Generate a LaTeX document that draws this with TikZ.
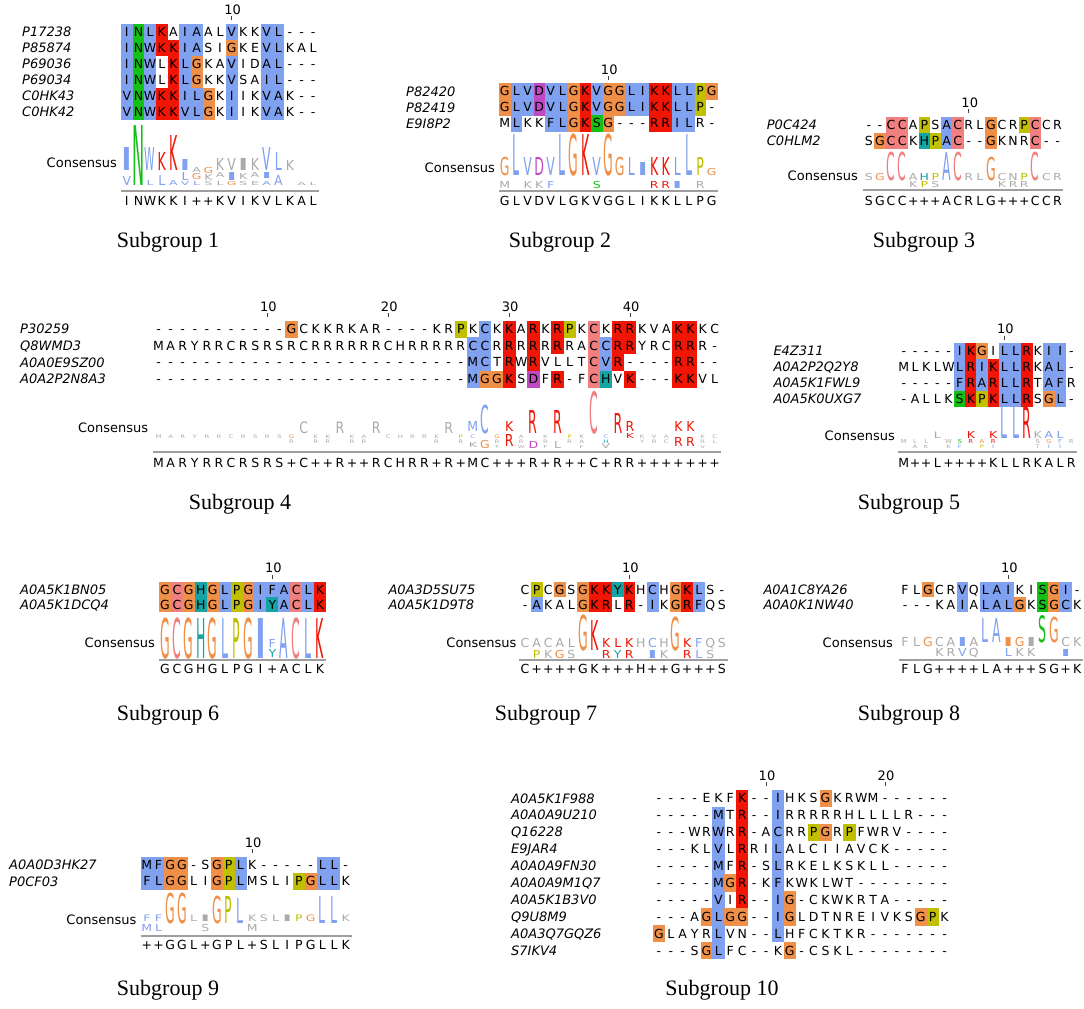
\documentclass[tikz,border=0pt]{standalone}
\usepackage{fontspec}
\newfontfamily\seqf{DejaVu Sans}
\newfontfamily\titf{Liberation Serif}
\definecolor{clb}{HTML}{80A0F0}
\definecolor{clr}{HTML}{F01505}
\definecolor{clg}{HTML}{15C015}
\definecolor{clm}{HTML}{C048C0}
\definecolor{clp}{HTML}{F08080}
\definecolor{clo}{HTML}{F09048}
\definecolor{clc}{HTML}{15A4A4}
\definecolor{cly}{HTML}{C0C000}
\definecolor{cla}{HTML}{AAAAAA}
\newcount\sqcnt
\newcount\lgcnt
\let\sqend\relax
\tikzset{
 seq/.style={inner sep=0pt, font=\seqf\fontsize{12.5}{12.5}\selectfont, text height=9.1pt, text depth=0pt, anchor=center},
 lab/.style={inner sep=0pt, anchor=west, font=\seqf\itshape\fontsize{13}{13}\selectfont, text height=9.5pt, text depth=0pt},
 num/.style={inner sep=0pt, font=\seqf\fontsize{13}{13}\selectfont},
 tick/.style={line width=0.8pt, draw=black!75},
 conslab/.style={inner sep=0pt, anchor=east, font=\seqf\fontsize{13}{13}\selectfont},
 lgf/.style={inner sep=0pt, anchor=base, font=\seqf\fontsize{12.5}{12.5}\selectfont},
 rulel/.style={draw=black!38, line width=1.6pt},
 title/.style={inner sep=0pt, font=\titf\fontsize{22}{22}\selectfont},
}
\newcommand\setgrp[5]{\def\gx{#1}\def\gy{#2}\def\gw{#3}\def\gh{#4}\def\glx{#5}}
\def\sqloop#1#2\sqend#3#4\sqend{%
  \advance\sqcnt by 1\relax
  \if n#3\else
    \fill[cl#3] ({\gx+(\the\sqcnt-1)*\gw},\sqy) rectangle ++({\gw+0.3},{\gh+0.3});%
  \fi
  \node[seq] (\sqn c\the\sqcnt) at ({\gx+(\the\sqcnt-0.5)*\gw},{\sqy+0.5*\gh}) {#1};%
  \ifx\relax#2\relax\else\sqloop#2\sqend#4\sqend\fi}
\newcommand\sqrow[5]{%
  \pgfmathsetmacro\sqy{\gy+(#2-1)*\gh}%
  \node[lab] (#1) at (\glx,{\sqy+0.5*\gh}) {#3};%
  \def\sqn{#1}\sqcnt=0
  \sqloop#4\sqend#5\sqend}
\def\csloop#1#2\sqend{\advance\sqcnt by 1\relax
  \node[seq] (\sqn c\the\sqcnt) at ({\gx+(\the\sqcnt-0.5)*\gw},\csy) {#1};%
  \ifx\relax#2\relax\else\csloop#2\sqend\fi}
\newcommand\consline[3]{\def\sqn{#1}\def\csy{#2}\sqcnt=0 \csloop#3\sqend}
\newcommand\ticknum[3]{%
  \pgfmathsetmacro\tkx{\gx+(#2-0.5)*\gw}%
  \draw[tick] (\tkx,{\gy-7.5}) -- (\tkx,{\gy-3.5});%
  \node[num] (#1) at ({\tkx+1},{\gy-14}) {#3};}
\newcommand\consrule[3]{%
  \coordinate (#3a) at (\gx,#2);
  \coordinate (#3b) at ({\gx+#1*\gw},#2);
  \draw[rulel] (#3a) -- (#3b);}
\newcommand\logoch[6][1]{%
  \global\advance\lgcnt by 1\relax
  \pgfmathsetmacro\lgs{#4/9.11}%
  \node[lgf, text=cl#5] (lg\the\lgcnt) at ({\gx+(#2-0.5)*\gw},#3) {\scalebox{#1}[\lgs]{#6}};}
\newcommand\tinyrow[3]{\foreach \tkc/\tkl/\tkk in {#3}{%
  \edef\tkcmd{\noexpand\logoch[0.55]{\tkc}{#1}{#2}{\tkk}{\tkl}}\tkcmd}}
\begin{document}
\begin{tikzpicture}[x=1pt,y=-1pt]
\useasboundingbox (0,0) rectangle (1084,1009);
\fill[white] (0,0) rectangle (1084,1009);

% ---------------- Subgroup 1
\setgrp{121}{23.5}{11.65}{16}{22}
\ticknum{s1n10}{10}{10}
\sqrow{s1a}{1}{P17238}{INLKAIAALVKKVL---}{bgbrnbbnnbnnbbnnn}
\sqrow{s1b}{2}{P85874}{INWKKIASIGKEVLKAL}{bgbrrbbnnonnbbnnn}
\sqrow{s1c}{3}{P69036}{INWLKLGKAVIDAL---}{bgbnrbonnbnnbbnnn}
\sqrow{s1d}{4}{P69034}{INWLKLGKKVSAIL---}{bgbnrbonnbnnbbnnn}
\sqrow{s1e}{5}{C0HK43}{VNWKKILGKIIKVAK--}{bgbrrbbonbnnbbnnn}
\sqrow{s1f}{6}{C0HK42}{VNWKKVLGKIIKVAK--}{bgbrrbbonbnnbbnnn}
\node[conslab] (s1cl) at (117,162.7) {Consensus};
\logoch[4]{1}{170}{23}{b}{I} \logoch{1}{185}{9}{b}{V}
\logoch[1.3]{2}{185}{60}{g}{N}
\logoch[0.85]{3}{170}{23}{b}{W} \logoch{3}{185}{5}{b}{L}
\logoch{4}{170}{18}{r}{K} \logoch{4}{185}{10}{b}{L}
\logoch{5}{170}{35}{r}{K} \logoch{5}{185}{5}{b}{A}
\logoch[4]{6}{170}{11}{b}{I} \logoch{6}{180}{8}{b}{L} \logoch{6}{185}{4}{b}{V}
\logoch{7}{172}{5}{a}{A} \logoch{7}{179}{6}{o}{G} \logoch{7}{185}{4}{b}{L}
\logoch{8}{173}{6}{o}{G} \logoch{8}{180}{6}{a}{K} \logoch{8}{185}{4}{a}{S}
\logoch{9}{170}{12}{a}{K} \logoch{9}{177}{5}{a}{A} \logoch{9}{185}{4}{a}{L}
\logoch{10}{170}{12}{a}{V} \logoch[4]{10}{180}{8}{b}{I} \logoch{10}{185}{4}{o}{G}
\logoch[4]{11}{170}{12}{a}{I} \logoch{11}{179}{6}{a}{K} \logoch{11}{185}{4}{a}{S}
\logoch{12}{170}{12}{a}{K} \logoch{12}{177}{5}{a}{A} \logoch{12}{185}{4}{a}{E}
\logoch{13}{170}{23}{b}{V} \logoch[4]{13}{178}{6}{b}{I} \logoch{13}{185}{4}{b}{A}
\logoch{14}{170}{18}{b}{L} \logoch{14}{185}{10}{b}{A}
\logoch{15}{170}{10}{a}{K}
\logoch{16}{185}{3}{a}{A} \logoch{17}{185}{3}{a}{L}
\consrule{17}{190.7}{s1r}
\consline{s1k}{200.5}{INWKKI++KVIKVLKAL}
\node[title] (t1) at (168,242) {Subgroup 1};

% ---------------- Subgroup 2
\setgrp{499}{83.3}{11.5}{16}{406}
\ticknum{s2n10}{10}{10}
\sqrow{s2a}{1}{P82420}{GLVDVLGKVGGLIKKLLPG}{obbmbborboobbrrbbyo}
\sqrow{s2b}{2}{P82419}{GLVDVLGKVGGLIKKLLP-}{obbmbborboobbrrbbyn}
\sqrow{s2c}{3}{E9I8P2}{MLKKFLGKSG---RRILR-}{nbnnbborgonnnrrbbnn}
\node[conslab] (s2cl) at (495,167.3) {Consensus};
\logoch{1}{175}{18}{o}{G} \logoch{2}{175}{41}{b}{L} \logoch{3}{175}{18}{b}{V}
\logoch{4}{175}{18}{m}{D} \logoch{5}{175}{18}{b}{V} \logoch{6}{175}{41}{b}{L}
\logoch{7}{175}{41}{o}{G} \logoch{8}{175}{41}{r}{K} \logoch{9}{175}{18}{b}{V}
\logoch{10}{175}{41}{o}{G} \logoch{11}{175}{18}{o}{G} \logoch{12}{175}{18}{b}{L}
\logoch[4]{13}{175}{13}{b}{I} \logoch{14}{175}{18}{r}{K} \logoch{15}{175}{18}{r}{K}
\logoch{16}{175}{18}{b}{L} \logoch{17}{175}{41}{b}{L} \logoch{18}{175}{18}{y}{P}
\logoch{19}{175}{7}{o}{G}
\logoch{1}{188}{7}{a}{M} \logoch{3}{188}{7}{a}{K} \logoch{4}{188}{7}{a}{K}
\logoch{5}{188}{7}{b}{F} \logoch{9}{188}{7}{g}{S} \logoch{14}{188}{7}{r}{R}
\logoch{15}{188}{7}{r}{R} \logoch[4]{16}{188}{7}{b}{I} \logoch{18}{188}{7}{a}{R}
\consrule{19}{191}{s2r}
\consline{s2k}{201}{GLVDVLGKVGGLIKKLLPG}
\node[title] (t2) at (560,242) {Subgroup 2};

% ---------------- Subgroup 3
\setgrp{863.3}{116.5}{11.1}{16}{766.7}
\ticknum{s3n10}{10}{10}
\sqrow{s3a}{1}{P0C424}{--CCAPSACRLGCRPCCR}{nnppnynbpnnonnypnn}
\sqrow{s3b}{2}{C0HLM2}{SGCCKHPAC--GKNRC--}{noppncybpnnonnnpnn}
\node[conslab] (s3cl) at (858,176) {Consensus};
\logoch{1}{180}{7}{a}{S} \logoch{2}{180}{7}{o}{G} \logoch{3}{180}{28}{p}{C}
\logoch{4}{180}{28}{p}{C} \logoch{5}{180}{7}{a}{A} \logoch{6}{180}{7}{c}{H}
\logoch{7}{180}{7}{y}{P} \logoch{8}{180}{28}{b}{A} \logoch{9}{180}{28}{p}{C}
\logoch{10}{180}{7}{a}{R} \logoch{11}{180}{7}{a}{L} \logoch{12}{180}{23}{o}{G}
\logoch{13}{180}{7}{a}{C} \logoch{14}{180}{7}{a}{N} \logoch{15}{180}{7}{y}{P}
\logoch{16}{180}{28}{p}{C} \logoch{17}{180}{7}{a}{C} \logoch{18}{180}{7}{a}{R}
\logoch{5}{187}{6}{a}{K} \logoch{6}{187}{6}{y}{P} \logoch{7}{187}{6}{a}{S}
\logoch{13}{187}{6}{a}{K} \logoch{14}{187}{6}{a}{R} \logoch{15}{187}{6}{a}{R}
\consrule{18}{190}{s3r}
\consline{s3k}{200.5}{SGCC+++ACRLG+++CCR}
\node[title] (t3) at (924,242) {Subgroup 3};

% ---------------- Subgroup 4
\setgrp{152.5}{320.7}{12.09}{16.65}{20}
\ticknum{s4n10}{10}{10}
\ticknum{s4n20}{20}{20}
\ticknum{s4n30}{30}{30}
\ticknum{s4n40}{40}{40}
\sqrow{s4a}{1}{P30259}{-----------GCKKRKAR----KRPKCKKARKRPKCKRRKVAKKKC}{nnnnnnnnnnnonnnnnnnnnnnnnynbnrnrnrynpnrrnnnrrnn}
\sqrow{s4b}{2}{Q8WMD3}{MARYRRCRSRSRCRRRRRRCHRRRRRCCRRRRRRRACCRRYRCRRR-}{nnnnnnnnnnnnnnnnnnnnnnnnnnbbnrnrnrnnpbrrnnnrrnn}
\sqrow{s4c}{3}{A0A0E9SZ00}{--------------------------MCTRWRVLLTCVR----RR--}{nnnnnnnnnnnnnnnnnnnnnnnnnnbbnrnrnnnnpbrnnnnrrnn}
\sqrow{s4d}{4}{A0A2P2N8A3}{--------------------------MGGKSDFR-FCHVK---KKVL}{nnnnnnnnnnnnnnnnnnnnnnnnnnboornmnrnnpcnrnnnrrnn}
\node[conslab] (s4cl) at (148.3,427.7) {Consensus};
\logoch{13}{433}{11.5}{a}{C} \logoch{16}{433}{11.5}{a}{R} \logoch{19}{433}{11.5}{a}{R}
\logoch{25}{433}{11}{a}{R} \logoch{27}{431.5}{10}{b}{M} \logoch{28}{433}{28}{b}{C}
\logoch{30}{431.5}{10}{r}{K} \logoch{32}{433}{23}{r}{R} \logoch{34}{433}{23}{r}{R}
\logoch{37}{433}{41.5}{p}{C} \logoch{39}{433}{20}{r}{R} \logoch{40}{431.5}{10}{r}{R}
\logoch{44}{431.5}{10}{r}{K} \logoch{45}{431.5}{10}{r}{K}
\tinyrow{438.5}{3.5}{1/M/a,2/A/a,3/R/a,4/Y/a,5/R/a,6/R/a,7/C/a,8/R/a,9/S/a,10/R/a,11/S/a,12/G/o,14/K/a,15/K/a,17/K/a,18/A/a,20/C/a,21/H/a,22/R/a,23/R/a,24/K/a,26/P/y,27/C/b,29/G/o,31/A/a,33/K/a,35/P/y,36/K/a,38/C/b,41/K/a,42/V/a,43/A/a,46/K/a,47/C/a}
\tinyrow{443.5}{3.5}{12/R/a,14/R/a,15/R/a,17/R/a,18/R/a,24/R/a,26/R/a,29/R/a,31/R/a,33/R/a,35/R/a,36/A/a,38/H/c,41/Y/a,42/R/a,43/C/a,46/R/a,47/L/a}
\logoch{40}{438.5}{5}{r}{K}
\logoch{27}{447}{5}{a}{K} \logoch{28}{448}{8}{o}{G} \logoch{30}{446.5}{12}{r}{R}
\logoch{32}{448}{7}{m}{D} \logoch{34}{448}{7}{a}{L} \logoch{38}{448}{5}{a}{V}
\logoch{44}{446.5}{9}{r}{R} \logoch{45}{446.5}{9}{r}{R}
\tinyrow{448}{3}{29/T/a,31/W/a,33/F/a,36/F/a,46/V/a}
\consrule{47}{451.7}{s4r}
\consline{s4k}{462.5}{MARYRRCRSRS+C++R++RCHRR+R+MC+++R+R++C+RR+++++++}
\node[title] (t4) at (240,504) {Subgroup 4};

% ---------------- Subgroup 5
\setgrp{898.3}{343}{11.16}{16}{773.3}
\ticknum{s5n10}{10}{10}
\sqrow{s5a}{1}{E4Z311}{-----IKGILLRKII-}{nnnnnbronbbrnbbn}
\sqrow{s5b}{2}{A0A2P2Q2Y8}{MLKLWLRIKLLRKAL-}{nnnnnbrbrbbrnbbn}
\sqrow{s5c}{3}{A0A5K1FWL9}{-----FRARLLRTAFR}{nnnnnbrbrbbrnbbn}
\sqrow{s5d}{4}{A0A5K0UXG7}{-ALLKSKPKLLRSGL-}{nnnnngryrbbrnobn}
\node[conslab] (s5cl) at (895,436) {Consensus};
\logoch{10}{438}{31.5}{b}{L} \logoch{11}{438}{31.5}{b}{L} \logoch{12}{438}{31.5}{r}{R}
\logoch{4}{438}{6.5}{a}{L} \logoch{7}{438}{7}{r}{K} \logoch{9}{438}{7}{r}{K}
\logoch{13}{438}{7}{a}{K} \logoch{14}{438}{7}{b}{A} \logoch{15}{438}{7}{b}{L}
\tinyrow{443.5}{4}{1/M/a,2/L/a,3/L/a,5/W/a,6/S/g,7/R/r,8/A/o,9/R/r,13/S/a,14/G/o,15/F/b,16/R/a}
\tinyrow{448}{3.5}{2/A/a,3/K/a,5/K/a,6/F/b,8/P/y,9/I/b,13/T/a,14/I/b,15/I/b}
\consrule{16}{452}{s5r}
\consline{s5k}{462.5}{M++L++++KLLRKALR}
\node[title] (t5) at (909,504) {Subgroup 5};

% ---------------- Subgroup 6
\setgrp{159}{582}{11.93}{15}{20}
\ticknum{s6n10}{10}{10}
\sqrow{s6a}{1}{A0A5K1BN05}{GCGHGLPGIFACLK}{opocobyobbbpbr}
\sqrow{s6b}{2}{A0A5K1DCQ4}{GCGHGLPGIYACLK}{opocobyobcbpbr}
\node[conslab] (s6cl) at (155,642.7) {Consensus};
\logoch{1}{658}{40}{o}{G} \logoch{2}{658}{40}{p}{C} \logoch{3}{658}{40}{o}{G}
\logoch{4}{658}{40}{c}{H} \logoch{5}{658}{40}{o}{G} \logoch{6}{658}{40}{b}{L}
\logoch{7}{658}{40}{y}{P} \logoch{8}{658}{40}{o}{G} \logoch[4]{9}{658}{40}{b}{I}
\logoch{10}{647}{8}{b}{F} \logoch{10}{657}{8}{c}{Y}
\logoch{11}{658}{40}{b}{A} \logoch{12}{658}{40}{p}{C} \logoch{13}{658}{40}{b}{L}
\logoch{14}{658}{40}{r}{K}
\consrule{14}{660}{s6r}
\consline{s6k}{668.5}{GCGHGLPGI+ACLK}
\node[title] (t6) at (168,715) {Subgroup 6};

% ---------------- Subgroup 7
\setgrp{519.3}{582}{11.58}{15}{388.3}
\ticknum{s7n10}{10}{10}
\sqrow{s7a}{1}{A0A3D5SU75}{CPCGSGKKYKHCHGKLS-}{nynonorrcrnbnorbnn}
\sqrow{s7b}{2}{A0A5K1D9T8}{-AKALGKRLR-IKGRFQS}{nbnnnorrnrnbnorbnn}
\node[conslab] (s7cl) at (516.7,642.7) {Consensus};
\logoch{6}{650}{35}{o}{G} \logoch{7}{650}{30}{r}{K} \logoch{14}{650}{33}{o}{G}
\logoch{1}{647}{9}{a}{C} \logoch{2}{647}{9}{a}{A} \logoch{3}{647}{9}{a}{C}
\logoch{4}{647}{9}{a}{A} \logoch{5}{647}{9}{a}{L} \logoch{8}{647}{9}{r}{K}
\logoch{9}{647}{9}{r}{L} \logoch{10}{647}{9}{r}{K} \logoch{11}{647}{9}{a}{H}
\logoch{12}{647}{9}{b}{C} \logoch{13}{647}{9}{a}{H} \logoch{15}{647}{9}{r}{K}
\logoch{16}{647}{9}{b}{F} \logoch{17}{647}{9}{a}{Q} \logoch{18}{647}{9}{a}{S}
\logoch{2}{658}{8}{y}{P} \logoch{3}{658}{8}{a}{K} \logoch{4}{658}{8}{o}{G}
\logoch{5}{658}{8}{a}{S} \logoch{8}{658}{8}{r}{R} \logoch{9}{658}{8}{c}{Y}
\logoch{10}{658}{8}{r}{R} \logoch[4]{12}{658}{8}{b}{I} \logoch{13}{658}{8}{a}{K}
\logoch{15}{658}{8}{r}{R} \logoch{16}{658}{8}{b}{L} \logoch{17}{658}{8}{a}{S}
\consrule{18}{660}{s7r}
\consline{s7k}{668.5}{C++++GK+++H++G+++S}
\node[title] (t7) at (546,715) {Subgroup 7};

% ---------------- Subgroup 8
\setgrp{899.3}{582}{11.47}{15}{763.3}
\ticknum{s8n10}{10}{10}
\sqrow{s8a}{1}{A0A1C8YA26}{FLGCRVQLAIKISGI-}{nnonnbnbbbnngobn}
\sqrow{s8b}{2}{A0A0K1NW40}{---KAIALALGKSGCK}{nnnnnbnbbbongobn}
\node[conslab] (s8cl) at (893,642.7) {Consensus};
\logoch{8}{642}{24}{b}{L} \logoch{9}{642}{24}{b}{A} \logoch{13}{642}{26.5}{g}{S}
\logoch{14}{642}{25}{o}{G}
\logoch{1}{646}{9}{a}{F} \logoch{2}{646}{9}{a}{L} \logoch{3}{646}{9}{o}{G}
\logoch{4}{646}{9}{a}{C} \logoch{5}{646}{9}{a}{A} \logoch[4]{6}{646}{9}{b}{I}
\logoch{7}{646}{9}{a}{A} \logoch[4]{10}{646}{9}{o}{I} \logoch{11}{646}{9}{o}{G}
\logoch[4]{12}{646}{9}{a}{I} \logoch{15}{646}{9}{a}{C} \logoch{16}{646}{9}{a}{K}
\logoch{4}{656.5}{8}{a}{K} \logoch{5}{656.5}{8}{a}{R} \logoch{6}{656.5}{8}{b}{V}
\logoch{7}{656.5}{8}{a}{Q} \logoch{10}{656.5}{8}{b}{L} \logoch{11}{656.5}{8}{a}{K}
\logoch{12}{656.5}{8}{a}{K} \logoch[4]{15}{656.5}{7}{b}{I}
\consrule{16}{660}{s8r}
\consline{s8k}{668.5}{FLG++++LA+++SG+K}
\node[title] (t8) at (909,715) {Subgroup 8};

% ---------------- Subgroup 9
\setgrp{141}{856.5}{11.7}{16.5}{9}
\ticknum{s9n10}{10}{10}
\sqrow{s9a}{1}{A0A0D3HK27}{MFGG-SGPLK-----LL-}{bboonnoybnnnnnnbbn}
\sqrow{s9b}{2}{P0CF03}{FLGGLIGPLMSLIPGLLK}{bboonnoybnnnnyobbn}
\node[conslab] (s9cl) at (136.7,919.3) {Consensus};
\logoch{3}{923}{30}{o}{G} \logoch{4}{923}{30}{o}{G} \logoch{7}{923}{27}{o}{G}
\logoch{8}{923}{27}{y}{P} \logoch{9}{923}{25}{b}{L} \logoch{16}{923}{27}{b}{L}
\logoch{17}{923}{27}{b}{L}
\logoch{1}{921.5}{6.5}{b}{F} \logoch{2}{921.5}{6.5}{b}{F} \logoch{5}{921.5}{6.5}{a}{L}
\logoch[4]{6}{921.5}{6.5}{a}{I} \logoch{10}{921.5}{6.5}{a}{K} \logoch{11}{921.5}{6.5}{a}{S}
\logoch{12}{921.5}{6.5}{a}{L} \logoch[4]{13}{921.5}{6.5}{a}{I} \logoch{14}{921.5}{6.5}{y}{P}
\logoch{15}{921.5}{6.5}{o}{G} \logoch{18}{921.5}{6.5}{a}{K}
\logoch{1}{931.5}{7}{b}{M} \logoch{2}{931.5}{7}{b}{L} \logoch{6}{931.5}{7}{a}{S}
\logoch{10}{931.5}{7}{a}{M}
\consrule{18}{936}{s9r}
\consline{s9k}{945}{++GGL+GPL+SLIPGLLK}
\node[title] (t9) at (168,990) {Subgroup 9};

% ---------------- Subgroup 10
\setgrp{652.95}{789.8}{11.9}{16.93}{511}
\ticknum{s10n10}{10}{10}
\ticknum{s10n20}{20}{20}
\sqrow{s10a}{1}{A0A5K1F988}{----EKFK--IHKSGKRWM------}{nnnnnnnrnnbnnnonnnnnnnnnn}
\sqrow{s10b}{2}{A0A0A9U210}{-----MTR--IRRRRRHLLLLR---}{nnnnnbnrnnbnnnnnnnnnnnnnn}
\sqrow{s10c}{3}{Q16228}{---WRWRR-ACRRPGRPFWRV----}{nnnnnbnrnnbnnyonynnnnnnnn}
\sqrow{s10d}{4}{E9JAR4}{---KLVLRRILALCIIAVCK-----}{nnnnnbnrnnbnnnnnnnnnnnnnn}
\sqrow{s10e}{5}{A0A0A9FN30}{-----MFR-SLRKELKSKLL-----}{nnnnnbnrnnbnnnnnnnnnnnnnn}
\sqrow{s10f}{6}{A0A0A9M1Q7}{-----MGR-KFKWKLWT--------}{nnnnnbornnbnnnnnnnnnnnnnn}
\sqrow{s10g}{7}{A0A5K1B3V0}{-----VIR--IG-CKWKRTA-----}{nnnnnbnrnnbonnnnnnnnnnnnn}
\sqrow{s10h}{8}{Q9U8M9}{---AGLGG--IGLDTNREIVKSGPK}{nnnnoboonnbonnnnnnnnnnoyn}
\sqrow{s10i}{9}{A0A3Q7GQZ6}{GLAYRLVN--LHFCKTKR-------}{onnnnbnnnnbnnnnnnnnnnnnnn}
\sqrow{s10j}{10}{S7IKV4}{---SGLFC--KG-CSKL--------}{nnnnobnnnnnonnnnnnnnnnnnn}
\node[title] (t10) at (722,990) {Subgroup 10};
\end{tikzpicture}
\end{document}
